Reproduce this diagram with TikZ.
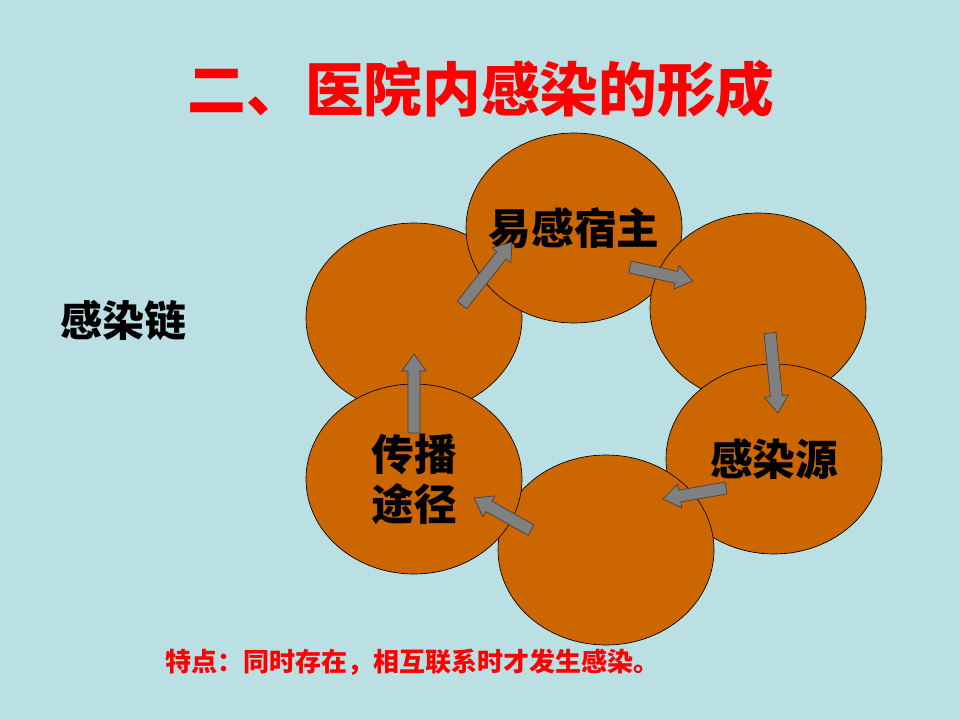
\documentclass[tikz,border=0pt]{standalone}
\usepackage{fontspec}
\usepackage{xcolor}
\usepackage{tikz}
\usetikzlibrary{shapes}
\usetikzlibrary{calc}
\newfontfamily\cjk{Noto Sans CJK SC}
\definecolor{Slide}{RGB}{187,224,227}
\definecolor{Ring}{RGB}{204,102,0}
\definecolor{Flow}{RGB}{128,128,128}
\newcommand{\flowarrow}[2]{%
  \draw[fill=Flow, draw=black!75, line width=0.5pt]
    let \p1=($(#2)-(#1)$), \n1={atan2(\y1,\x1)}, \n2={veclen(\x1,\y1)} in
    [shift={(#1)}, rotate=\n1]
    (0pt,-4.5pt) -- ({\n2*1pt-12.75pt},-4.5pt) -- ({\n2*1pt-12.75pt},-9pt) -- ({\n2*1pt},0pt)
    -- ({\n2*1pt-12.75pt},9pt) -- ({\n2*1pt-12.75pt},4.5pt) -- (0pt,4.5pt) -- cycle;}

\begin{document}
\begin{tikzpicture}[x=0.75pt, y=-0.75pt, font=\cjk\bfseries]
  \fill[Slide] (0,0) rectangle (960,720);
  \node[red] (title) at (481,89) {\fontsize{44}{50}\selectfont 二、医院内感染的形成};
  \node (chain) at (123,320) {\fontsize{31.5}{36}\selectfont 感染链};
  \foreach \n/\x/\y in {c6/414/318, c1/574/228, c2/758/308, c3/774/459, c4/606/550, c5/414/479}
  {\node[ellipse, draw, fill=Ring, line width=0.5pt, minimum width=162pt, minimum height=142.5pt,
     inner sep=0pt] (\n) at (\x,\y) {};}
  \foreach \n/\c/\l in {host/c1/易感宿主, source/c3/感染源, route/c5/{传播\\途径}}
  {\node[align=center, font=\cjk\bfseries\fontsize{32}{37.5}\selectfont] (\n) at (\c) {\l};}
  %\draw (c1) -- (c2);
  \foreach \tx/\ty/\hx/\hy [count=\i] in {462/305/512/242, 630/267/693/281, 770/333/778/413,
    726/488/663/499, 531/530/474/498, 414/433/414/354}
  {\coordinate (t\i) at (\tx,\ty);
   \coordinate (h\i) at (\hx,\hy);
   \flowarrow{t\i}{h\i}}
  \node[red] (note) at (412,662) {\fontsize{19.5}{23}\selectfont 特点：同时存在，相互联系时才发生感染。};
\end{tikzpicture}
\end{document}
